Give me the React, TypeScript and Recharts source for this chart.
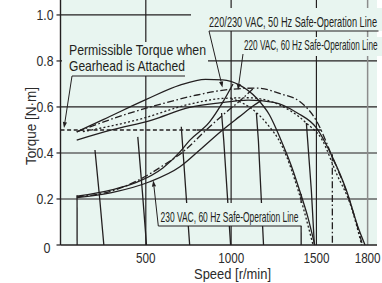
import React from 'react';
import { LineChart, Line, XAxis, YAxis, CartesianGrid, ReferenceLine } from 'recharts';

const INK = '#231f20';
const BG = '#e8f5f0';
const TXT = '#2b2b2b';
const FONT = "'Liberation Sans', Arial, sans-serif";

// axes
const speedTicks = [500, 1000, 1500, 1800];
const torqueTicks = [0, 0.2, 0.4, 0.6, 0.8, 1.0];
const torqueTickLabels = ['0', '0.2', '0.4', '0.6', '0.8', '1.0'];
const speedMax = 1855;
const torqueMax = 1.065;

// [speed r/min, torque N·m]
const permissibleDashed = [[0, 0.5], [800, 0.5]];
const permissibleSolid = [[800, 0.5], [1530, 0.5]];

const maxTorqueA = [[95, 0.492], [250, 0.545], [500, 0.632], [700, 0.695], [850, 0.72], [950, 0.718], [1050, 0.695], [1150, 0.638], [1225, 0.565], [1290, 0.46], [1350, 0.35], [1400, 0.24], [1450, 0.12], [1490, 0]];
const maxTorqueB = [[95, 0.492], [400, 0.572], [600, 0.615], [800, 0.652], [1000, 0.677], [1150, 0.682], [1300, 0.655], [1400, 0.625], [1500, 0.54], [1593, 0.383], [1693, 0.196], [1770, 0]];
const maxTorqueD60 = [[131, 0.4925], [465, 0.547], [757, 0.612], [950, 0.637], [1100, 0.64], [1283, 0.609], [1359, 0.578], [1441, 0.53], [1534, 0.456], [1616, 0.313], [1704, 0.165], [1765, 0]];
const maxTorqueD50 = [[1000, 0.636], [1067, 0.617], [1207, 0.53], [1301, 0.426], [1400, 0.22], [1480, 0]];
const maxTorqueE = [[95, 0.456], [300, 0.5], [535, 0.543], [757, 0.598], [933, 0.618], [1100, 0.63], [1250, 0.62], [1388, 0.574], [1500, 0.509], [1593, 0.383], [1675, 0.239], [1750, 0.065], [1785, 0]];

const safeLine50 = [[96, 0.212], [300, 0.24], [445, 0.272], [600, 0.335], [700, 0.405], [757, 0.455], [874, 0.535], [952, 0.622], [1011, 0.7]];
const safeLine220_60 = [[96, 0.209], [300, 0.235], [465, 0.285], [600, 0.345], [718, 0.405], [854, 0.5], [991, 0.59], [1049, 0.625], [1108, 0.665], [1135, 0.684]];
const safeLine230_60 = [[96, 0.206], [300, 0.228], [523, 0.275], [700, 0.34], [816, 0.413], [950, 0.5], [1049, 0.558], [1130, 0.605], [1180, 0.63]];

const speedLine1 = [[97, 0.216], [97.5, 0]];
const speedLine2 = [[202, 0.413], [230, 0.2], [254, 0]];
const speedLine3 = [[453, 0.47], [480, 0.23], [504, 0]];
const speedLine4 = [[708, 0.514], [733, 0.25], [757, 0]];
const speedLine5 = [[944, 0.574], [957, 0.452], [997, 0]];
const speedLine6 = [[1148, 0.574], [1160, 0.452], [1190, 0]];
const speedLine7 = [[1441, 0.53], [1470, 0.24], [1488, 0]];
const speedLine8 = [[1410, 0.222], [1410.5, 0]];
const speedLine9 = [[1593, 0.395], [1593.5, 0]];

const SOLID = { stroke: INK, strokeWidth: 1.3 };
const DASHDOT = { stroke: INK, strokeWidth: 1.3, strokeDasharray: '7 2.5 1.6 2.5' };
const DOTTED = { stroke: INK, strokeWidth: 1.3, strokeDasharray: '2 2.2' };
const DASHED = { stroke: INK, strokeWidth: 1.3, strokeDasharray: '4 2.6' };

const series = [
  { id: 'permD', data: permissibleDashed, style: DASHED, type: 'linear' },
  { id: 'permS', data: permissibleSolid, style: SOLID, type: 'linear' },
  { id: 'A', data: maxTorqueA, style: SOLID, type: 'monotone' },
  { id: 'B', data: maxTorqueB, style: DASHDOT, type: 'monotone' },
  { id: 'D60', data: maxTorqueD60, style: DOTTED, type: 'monotone' },
  { id: 'D50', data: maxTorqueD50, style: DOTTED, type: 'monotone' },
  { id: 'E', data: maxTorqueE, style: SOLID, type: 'monotone' },
  { id: 'S1', data: safeLine50, style: SOLID, type: 'monotone' },
  { id: 'S2', data: safeLine220_60, style: DASHDOT, type: 'monotone' },
  { id: 'S3', data: safeLine230_60, style: SOLID, type: 'monotone' },
  { id: 'v1', data: speedLine1, style: SOLID, type: 'linear' },
  { id: 'v2', data: speedLine2, style: SOLID, type: 'linear' },
  { id: 'v3', data: speedLine3, style: SOLID, type: 'linear' },
  { id: 'v4', data: speedLine4, style: SOLID, type: 'linear' },
  { id: 'v5', data: speedLine5, style: SOLID, type: 'linear' },
  { id: 'v6', data: speedLine6, style: SOLID, type: 'linear' },
  { id: 'v7', data: speedLine7, style: SOLID, type: 'linear' },
  { id: 'v8', data: speedLine8, style: SOLID, type: 'linear' },
  { id: 'v9', data: speedLine9, style: DASHDOT, type: 'linear' },
];

const toPts = (arr: number[][]) => arr.map(([x, y]) => ({ x, y }));

// condensed text: horizontally scaled glyphs, fitted to a target width
const CText = ({ x, y, sx, len, size, anchor = 'start', rotate = 0, fill = INK, children }: any) => (
  <text
    transform={`translate(${x},${y})${rotate ? ` rotate(${rotate})` : ''} scale(${sx},1)`}
    textAnchor={anchor}
    fontSize={size}
    fontFamily={FONT}
    fill={fill}
    textLength={len / sx}
    lengthAdjust="spacingAndGlyphs"
  >
    {children}
  </text>
);

const YTick = (props: any) => {
  const { y, payload } = props;
  const i = torqueTicks.indexOf(payload.value);
  const zero = payload.value === 0;
  return (
    <CText x={zero ? 50.5 : 53.5} y={y + (zero ? 8.3 : 5.3)} sx={0.8} len={zero ? 7 : 17} size={14.5} anchor="end" fill={TXT}>
      {torqueTickLabels[i]}
    </CText>
  );
};

const XTick = (props: any) => {
  const { x, payload } = props;
  const label = String(payload.value);
  return (
    <CText x={x} y={263.3} sx={0.8} len={label.length * 6.5} size={14.5} anchor="middle" fill={TXT}>
      {label}
    </CText>
  );
};

const Arrow = ({ x1, y1, x2, y2 }: { x1: number; y1: number; x2: number; y2: number }) => {
  const dx = x2 - x1, dy = y2 - y1;
  const L = Math.hypot(dx, dy);
  const ux = dx / L, uy = dy / L;
  const len = 6, w = 2.1;
  const bx = x2 - ux * len, by = y2 - uy * len;
  return (
    <g>
      <line x1={x1} y1={y1} x2={bx} y2={by} stroke={INK} strokeWidth={1} />
      <polygon points={`${x2},${y2} ${bx - uy * w},${by + ux * w} ${bx + uy * w},${by - ux * w}`} fill={INK} />
    </g>
  );
};

const Overlay = () => (
  <svg width={382} height={283} style={{ position: 'absolute', left: 0, top: 0, pointerEvents: 'none' }}>
    {/* permissible torque label */}
    <rect x={62} y={42} width={146} height={34} fill={BG} />
    <CText x={69} y={55} sx={0.87} len={137} size={14}>Permissible Torque when</CText>
    <CText x={69} y={71} sx={0.86} len={116} size={14}>Gearhead is Attached</CText>
    <line x1={185} y1={76} x2={72} y2={76} stroke={INK} strokeWidth={1} />
    <Arrow x1={72} y1={76} x2={64} y2={128} />

    {/* 220/230 VAC 50 Hz */}
    <rect x={191} y={8} width={191} height={23} fill={BG} />
    <CText x={209} y={27.3} sx={0.61} len={168} size={15}>220/230 VAC, 50 Hz Safe-Operation Line</CText>
    <line x1={378.5} y1={31} x2={209} y2={31} stroke={INK} strokeWidth={1} />
    <Arrow x1={209} y1={31} x2={222.5} y2={87.5} />

    {/* 220 VAC 60 Hz */}
    <rect x={240} y={37} width={142} height={19} fill={BG} />
    <CText x={244} y={50} sx={0.58} len={133.5} size={14.5}>220 VAC, 60 Hz Safe-Operation Line</CText>
    <Arrow x1={243} y1={54} x2={238} y2={90} />

    {/* 230 VAC 60 Hz */}
    <rect x={157} y={203} width={145} height={23} fill={BG} />
    <CText x={160.5} y={222} sx={0.58} len={138} size={14.5}>230 VAC, 60 Hz Safe-Operation Line</CText>
    <line x1={301.5} y1={226} x2={158.3} y2={226} stroke={INK} strokeWidth={1} />
    <Arrow x1={158.3} y1={226} x2={153.3} y2={180.5} />

    {/* axis titles */}
    <CText x={35.5} y={126} rotate={-90} sx={0.89} len={78} size={15} anchor="middle" fill={TXT}>Torque [N·m]</CText>
    <CText x={232.5} y={279} sx={0.89} len={77} size={14.5} anchor="middle" fill={TXT}>Speed [r/min]</CText>
  </svg>
);

export default function App() {
  return (
    <div style={{ position: 'absolute', left: 0, top: 0, width: 382, height: 283 }}>
      <LineChart width={382} height={283} margin={{ top: 0, right: 5, bottom: 0, left: 0 }}>
        <CartesianGrid fill={BG} fillOpacity={1} horizontal={false} vertical={false} />
        <XAxis
          type="number"
          dataKey="x"
          domain={[0, speedMax]}
          ticks={speedTicks}
          height={38}
          tickLine={false}
          axisLine={{ stroke: INK, strokeWidth: 1.4 }}
          tick={<XTick />}
          interval={0}
        />
        <YAxis
          type="number"
          dataKey="y"
          domain={[0, torqueMax]}
          ticks={torqueTicks}
          width={60.5}
          tickSize={4}
          tickLine={{ stroke: INK, strokeWidth: 1.2 }}
          axisLine={{ stroke: INK, strokeWidth: 1.4 }}
          tick={<YTick />}
          interval={0}
        />
        {torqueTicks.filter((t) => t > 0).map((t) => (
          <ReferenceLine key={'h' + t} y={t} stroke={INK} strokeWidth={1.2} ifOverflow="visible" />
        ))}
        {speedTicks.map((s) => (
          <ReferenceLine key={'v' + s} x={s} stroke={s === 1800 ? '#8c8c8c' : INK} strokeWidth={s === 1800 ? 1.5 : 1.2} />
        ))}
        {series.map((s) => (
          <Line
            key={s.id}
            data={toPts(s.data)}
            dataKey="y"
            type={s.type as any}
            dot={false}
            activeDot={false}
            isAnimationActive={false}
            {...s.style}
          />
        ))}
      </LineChart>
      <Overlay />
    </div>
  );
}
